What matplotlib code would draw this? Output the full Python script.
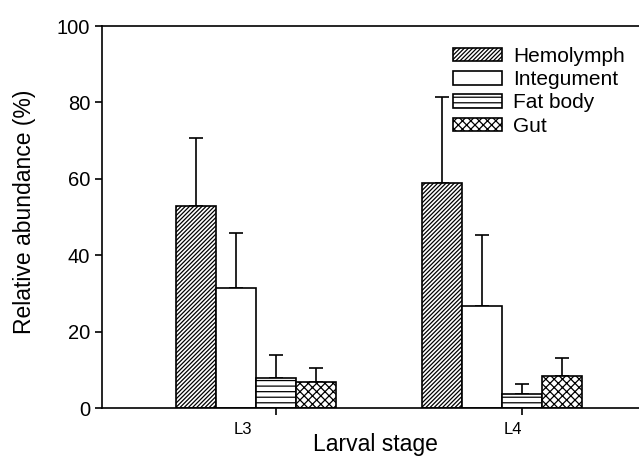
import matplotlib
matplotlib.use("Agg")
import matplotlib.pyplot as plt
from matplotlib.transforms import blended_transform_factory

plt.rcParams['font.family'] = ['Liberation Sans', 'DejaVu Sans']
plt.rcParams['hatch.linewidth'] = 0.9

# Data
stages = ["L3", "L4"]
tissues = ["Hemolymph", "Integument", "Fat body", "Gut"]
means = [
    [52.9, 59.0],   # Hemolymph
    [31.3, 26.7],   # Integument
    [7.9, 3.6],     # Fat body
    [6.9, 8.3],     # Gut
]
errors = [
    [17.8, 22.3],
    [14.4, 18.6],
    [6.1, 2.6],
    [3.6, 4.8],
]
hatches = ["////////", "", "---", "xxxx"]

# group layout (bar width = 1)
group_start = [1.85, 8.0]
label_pos = [3.525, 10.275]
tick_pos = [4.35, 10.5]

fig = plt.figure(figsize=(6.39, 4.57), dpi=100)
ax = fig.add_axes([0.1596, 0.1072, 0.8404, 0.8359])

for i, name in enumerate(tissues):
    xs = [g + i + 0.5 for g in group_start]
    ax.bar(xs, means[i], width=1.0, color="white", edgecolor="black",
           linewidth=1.2, hatch=hatches[i], label=name, zorder=2)
    ax.errorbar(xs, means[i], yerr=[[0, 0], errors[i]], fmt="none",
                ecolor="black", elinewidth=1.2, capsize=5, capthick=1.2, zorder=1)

ax.set_xlim(0, 13.43)
ax.set_ylim(0, 100)
ax.set_yticks([0, 20, 40, 60, 80, 100])
ax.tick_params(axis="y", labelsize=14.5, length=5, width=1.2, direction="out")

ax.set_xticks(tick_pos)
ax.set_xticklabels([])
ax.tick_params(axis="x", length=5, width=1.2, direction="out")
tr = blended_transform_factory(ax.transData, ax.transAxes)
for x, s in zip(label_pos, stages):
    ax.text(x, -0.056, s, transform=tr, ha="center", va="center", fontsize=12)

ax.spines["right"].set_visible(False)
for s in ["left", "bottom", "top"]:
    ax.spines[s].set_linewidth(1.2)

fig.text(0.5869, 0.027, "Larval stage", ha="center", va="center", fontsize=16.5)
fig.text(0.039, 0.536, "Relative abundance (%)", ha="center", va="center",
         rotation=90, fontsize=16.5)

leg = ax.legend(loc="upper left", bbox_to_anchor=(0.6335, 0.972), frameon=False,
                fontsize=15, handlelength=2.35, handleheight=0.6,
                handletextpad=0.55, labelspacing=0.2, borderpad=0)

fig.savefig("out.png", dpi=100)
